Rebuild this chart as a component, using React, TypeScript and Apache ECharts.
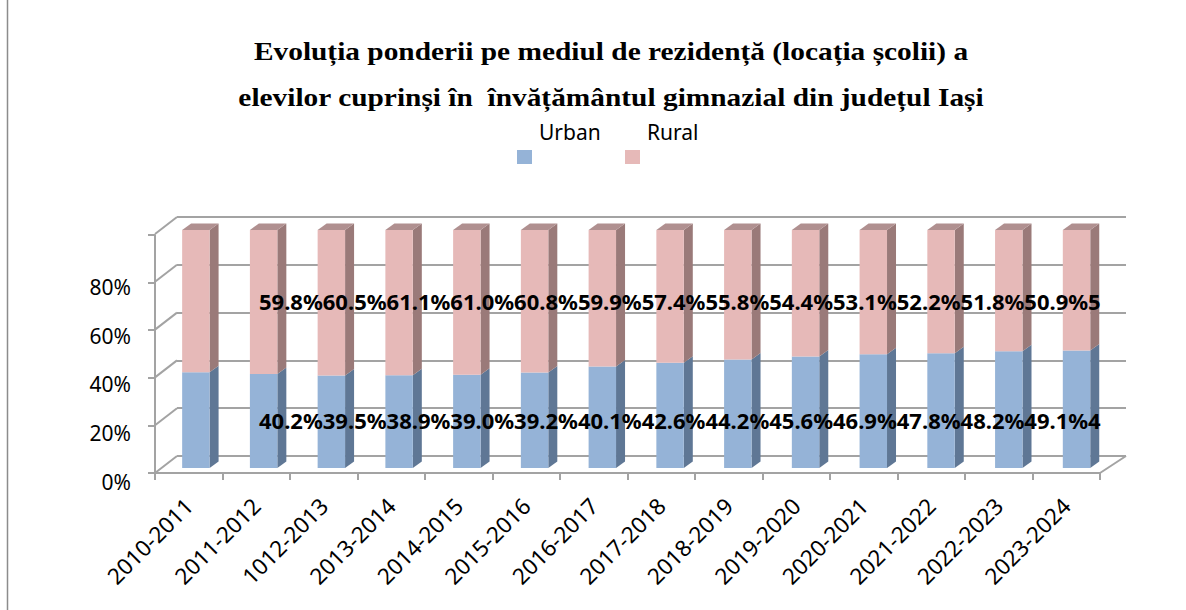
import React, { useEffect, useRef } from "react";
import * as echarts from "echarts";

const categories = [
  "2010-2011", "2011-2012", "1012-2013", "2013-2014", "2014-2015", "2015-2016", "2016-2017",
  "2017-2018", "2018-2019", "2019-2020", "2020-2021", "2021-2022", "2022-2023", "2023-2024",
];
const seriesNames = ["Urban", "Rural"];
const urban = [40.2, 39.5, 38.9, 39.0, 39.2, 40.1, 42.6, 44.2, 45.6, 46.9, 47.8, 48.2, 49.1, 49.4];
const rural = [59.8, 60.5, 61.1, 61.0, 60.8, 59.9, 57.4, 55.8, 54.4, 53.1, 52.2, 51.8, 50.9, 50.6];
const yTicks = [0, 20, 40, 60, 80, 100];
const titleLines = [
  "Evoluția ponderii pe mediul de rezidență (locația școlii) a",
  "elevilor cuprinși în  învățământul gimnazial din județul Iași",
];

const FRONT = ["#95B3D7", "#E6B9B8"];
const SIDE = ["#5F7795", "#9A7A79"];
const TOP = ["#7C93B0", "#B09090"];
const GRAY = "#a3a3a3";
const SANS = "'Noto Sans', sans-serif";

const BAR_DX = 9;
const BAR_DY = 6.5;

function barRender(seriesIdx: number) {
  return (params: any, api: any) => {
    const i = api.value(0);
    const lo = api.value(1);
    const hi = api.value(2);
    const p0 = api.coord([i, lo]);
    const p1 = api.coord([i, hi]);
    const band = api.size([1, 0])[0];
    const w = band * 0.405;
    const x0 = p0[0] - w / 2;
    const x1 = x0 + w;
    const yb = p0[1];
    const yt = p1[1];
    const children: any[] = [
      {
        type: "polygon",
        shape: { points: [[x1, yb], [x1, yt], [x1 + BAR_DX, yt - BAR_DY], [x1 + BAR_DX, yb - BAR_DY]] },
        style: { fill: SIDE[seriesIdx] },
      },
      {
        type: "rect",
        shape: { x: x0, y: yt, width: w, height: yb - yt },
        style: { fill: FRONT[seriesIdx] },
      },
    ];
    if (seriesIdx === seriesNames.length - 1) {
      children.push({
        type: "polygon",
        shape: { points: [[x0, yt], [x0 + BAR_DX, yt - BAR_DY], [x1 + BAR_DX, yt - BAR_DY], [x1, yt]] },
        style: { fill: TOP[seriesIdx] },
      });
    }
    return { type: "group", children };
  };
}

function depthRender(params: any, api: any) {
  const xv = api.value(0);
  const v = api.value(1);
  const p = api.coord([xv, v]);
  const dx = xv === 0 ? 22 : 26;
  return {
    type: "line",
    shape: { x1: p[0], y1: p[1], x2: p[0] - dx, y2: p[1] + 17 },
    style: { stroke: GRAY, lineWidth: 2 },
  };
}

export default function App() {
  const ref = useRef<HTMLDivElement>(null);
  useEffect(() => {
    if (!ref.current) return;
    const chart = echarts.init(ref.current, null, { renderer: "svg" });
    const urbanData = categories.map((c, i) => [i, 0, urban[i]]);
    const ruralData = categories.map((c, i) => [i, urban[i], urban[i] + rural[i]]);
    const depthData = [...yTicks.map((v) => [0, v]), [1, 0]];

    const labelFont = `bold 22px ${SANS}`;
    const graphics: any[] = [
      {
        type: "line",
        shape: { x1: 7.5, y1: 0, x2: 7.5, y2: 610 },
        style: { stroke: "#8c8c8c", lineWidth: 1.5 },
        z: 100,
      },
      {
        type: "text",
        x: 611,
        y: 74,
        scaleX: 1.13,
        z: 100,
        style: {
          text: titleLines.join("\n"),
          textAlign: "center",
          textVerticalAlign: "middle",
          font: `bold 26px 'Liberation Serif', 'Times New Roman', serif`,
          lineHeight: 46,
          fill: "#000",
        },
      },
      {
        type: "text",
        x: 259,
        y: 301,
        z: 100,
        style: {
          text: rural.map((v) => v.toFixed(1) + "%").join(""),
          font: labelFont,
          fill: "#000",
          textVerticalAlign: "middle",
          width: 848,
          overflow: "truncate",
          ellipsis: "",
        },
      },
      {
        type: "text",
        x: 259,
        y: 420,
        z: 100,
        style: {
          text: urban.map((v) => v.toFixed(1) + "%").join(""),
          font: labelFont,
          fill: "#000",
          textVerticalAlign: "middle",
          width: 848,
          overflow: "truncate",
          ellipsis: "",
        },
      },
    ];
    seriesNames.forEach((name, k) => {
      graphics.push({
        type: "text",
        x: 539 + k * 108,
        y: 132,
        z: 100,
        style: { text: name, font: `21px ${SANS}`, fill: "#000", textVerticalAlign: "middle" },
      });
      graphics.push({
        type: "rect",
        z: 100,
        shape: { x: 517 + k * 108, y: 150, width: 15, height: 14 },
        style: { fill: FRONT[k] },
      });
    });

    const axisLineStyle = { color: GRAY, width: 2 };
    chart.setOption({
      animation: false,
      backgroundColor: "#fff",
      grid: [
        { left: 155, right: 86, top: 235, bottom: 137 },
        { left: 177, right: 60, top: 217, bottom: 154 },
        { left: 155, width: 1, top: 238, bottom: 128 },
        { left: 162, right: 75.6, top: 230, bottom: 142 },
      ],
      xAxis: [
        {
          gridIndex: 0,
          type: "category",
          data: categories,
          boundaryGap: true,
          axisLine: { show: true, lineStyle: axisLineStyle },
          axisTick: { show: true, length: 7, interval: 0, lineStyle: axisLineStyle },
          axisLabel: {
            interval: 0,
            rotate: 45,
            margin: 29,
            fontSize: 22.5,
            fontFamily: SANS,
            color: "#000",
          },
          splitLine: { show: false },
        },
        { gridIndex: 1, type: "value", min: 0, max: 1, show: false },
        { gridIndex: 2, type: "value", min: 0, max: 1, show: false },
        {
          gridIndex: 3,
          type: "category",
          data: categories,
          show: false,
        },
      ],
      yAxis: [
        {
          gridIndex: 0,
          type: "value",
          min: 0,
          max: 100,
          interval: 20,
          axisLine: { show: true, lineStyle: axisLineStyle },
          axisTick: { show: true, length: 7, lineStyle: axisLineStyle },
          axisLabel: { show: false },
          splitLine: { show: false },
        },
        {
          gridIndex: 1,
          type: "value",
          min: 0,
          max: 100,
          interval: 20,
          axisLine: { show: false },
          axisTick: { show: false },
          axisLabel: { show: false },
          splitLine: { show: true, lineStyle: { color: GRAY, width: 2 } },
        },
        {
          gridIndex: 2,
          type: "value",
          min: 0,
          max: 100,
          interval: 20,
          axisLine: { show: false },
          axisTick: { show: false },
          splitLine: { show: false },
          axisLabel: {
            margin: 24,
            fontSize: 21,
            fontFamily: SANS,
            color: "#000",
            formatter: (v: number) => (v === 100 ? "" : v + "%"),
          },
        },
        { gridIndex: 3, type: "value", min: 0, max: 100, show: false },
      ],
      series: [
        {
          type: "custom",
          name: "depth",
          xAxisIndex: 1,
          yAxisIndex: 1,
          data: depthData,
          renderItem: depthRender,
          silent: true,
          z: 1,
        },
        {
          type: "custom",
          name: seriesNames[0],
          xAxisIndex: 3,
          yAxisIndex: 3,
          data: urbanData,
          encode: { x: 0, y: [1, 2] },
          renderItem: barRender(0),
          z: 3,
        },
        {
          type: "custom",
          name: seriesNames[1],
          xAxisIndex: 3,
          yAxisIndex: 3,
          data: ruralData,
          encode: { x: 0, y: [1, 2] },
          renderItem: barRender(1),
          z: 3,
        },
      ],
      graphic: graphics,
    });
    return () => chart.dispose();
  }, []);
  return (
    <div
      ref={ref}
      style={{ position: "fixed", left: 0, top: 0, width: 1186, height: 610, background: "#fff" }}
    />
  );
}
